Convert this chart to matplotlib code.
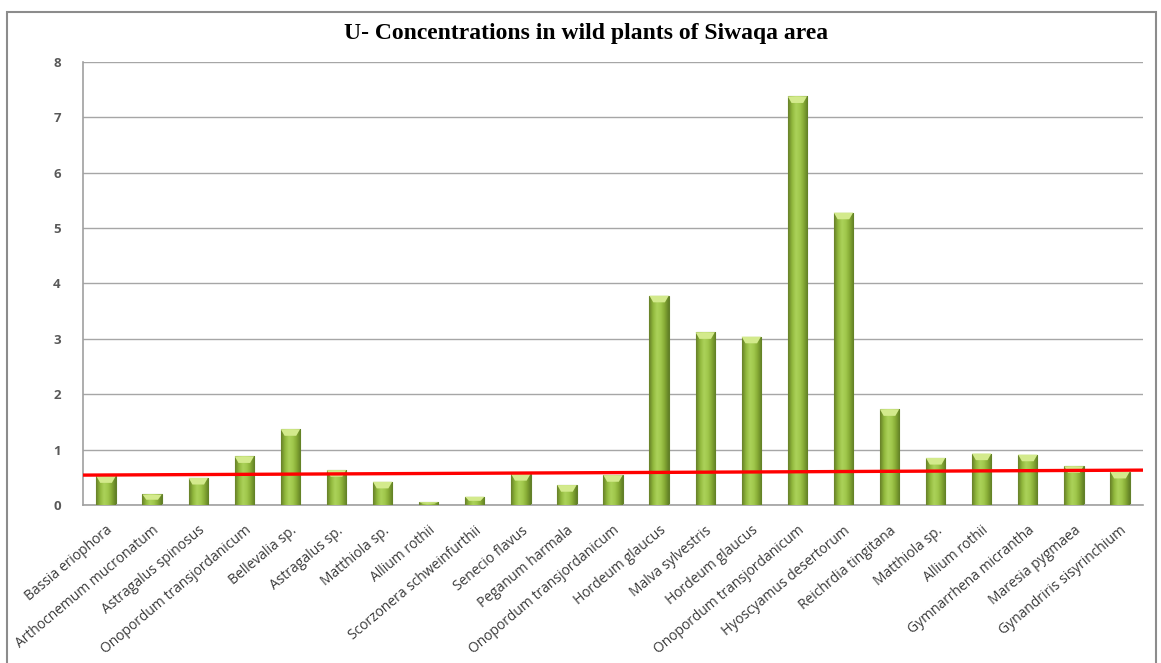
import numpy as np
import matplotlib.pyplot as plt
from matplotlib.patches import Rectangle, Polygon
from matplotlib.colors import LinearSegmentedColormap

# U concentrations per plant sample
plants = ['Bassia eriophora', 'Arthocnemum mucronatum', 'Astragalus spinosus',
          'Onopordum transjordanicum', 'Bellevalia sp.', 'Astragalus sp.',
          'Matthiola sp.', 'Allium rothii', 'Scorzonera schweinfurthii',
          'Senecio flavus', 'Peganum harmala', 'Onopordum transjordanicum',
          'Hordeum glaucus', 'Malva sylvestris', 'Hordeum glaucus',
          'Onopordum transjordanicum', 'Hyoscyamus desertorum',
          'Reichrdia tingitana', 'Matthiola sp.', 'Allium rothii',
          'Gymnarrhena micrantha', 'Maresia pygmaea', 'Gynandriris sisyrinchium']
u_conc = [0.52, 0.19, 0.49, 0.88, 1.37, 0.63, 0.42, 0.05, 0.15, 0.56, 0.36,
          0.54, 3.78, 3.12, 3.04, 7.38, 5.28, 1.73, 0.85, 0.93, 0.91, 0.70, 0.60]

# red reference line (value at left and right end of the plot)
ref_line = [0.54, 0.63]

y_ticks = [0, 1, 2, 3, 4, 5, 6, 7, 8]

fig = plt.figure(figsize=(11.61, 6.63), dpi=100)
ax = fig.add_axes([0.0715, 0.2383, 0.913, 0.6682])

# outer frame of the chart
fig.patches.append(Rectangle((0.006, -0.01), 0.990, 0.992, transform=fig.transFigure,
                             fill=False, edgecolor='#8c8c8c', linewidth=1.5))

x = np.arange(len(plants))
bars = ax.bar(x, u_conc, width=0.42, color='#93bb40', edgecolor='#62802a',
              linewidth=0.8, zorder=2)

# cylinder-like shading on each bar
shade = LinearSegmentedColormap.from_list(
    'shade', ['#667f28', '#90b83c', '#acd25a', '#a0c84c', '#85a934', '#607e25'])
grad = np.linspace(0, 1, 64).reshape(1, -1)
for b in bars:
    x0, w, h = b.get_x(), b.get_width(), b.get_height()
    im = ax.imshow(grad, cmap=shade, aspect='auto', extent=(x0, x0 + w, 0, h),
                   zorder=3, interpolation='bicubic')
    im.set_clip_path(b)
    cap = min(0.12, h * 0.5)
    ax.add_patch(Polygon([(x0, h), (x0 + w, h), (x0 + w * 0.8, h - cap),
                          (x0 + w * 0.2, h - cap)], closed=True,
                         facecolor='#d3ea8c', edgecolor='none', zorder=4))

ax.plot([-0.5, len(plants) - 0.5], ref_line, color='#ff0000', linewidth=2.4,
        zorder=5, solid_capstyle='butt')

ax.set_xlim(-0.5, len(plants) - 0.5)
ax.set_ylim(0, 8)
ax.set_yticks(y_ticks)
ax.yaxis.grid(True, color='#a6a6a6', linewidth=1.0, zorder=0)
ax.set_axisbelow(True)
ax.tick_params(axis='y', length=0, pad=16, labelsize=9.5, labelcolor='#595959')
ax.tick_params(axis='x', length=0, pad=13)
for lab in ax.get_yticklabels():
    lab.set_fontfamily('Open Sans')
    lab.set_fontweight('bold')

ax.set_xticks(x)
ax.set_xticklabels(plants, rotation=40, ha='right', rotation_mode='anchor',
                   fontsize=10, fontfamily='Open Sans', color='#3a3a3a')

for side in ['top', 'right']:
    ax.spines[side].set_visible(False)
for side in ['left', 'bottom']:
    ax.spines[side].set_color('#a0a0a0')
    ax.spines[side].set_linewidth(1.2)

fig.text(0.505, 0.950, 'U- Concentrations in wild plants of Siwaqa area',
         ha='center', va='center', fontsize=17, fontweight='bold',
         fontfamily='Liberation Serif')

fig.savefig('out.png', dpi=100)
